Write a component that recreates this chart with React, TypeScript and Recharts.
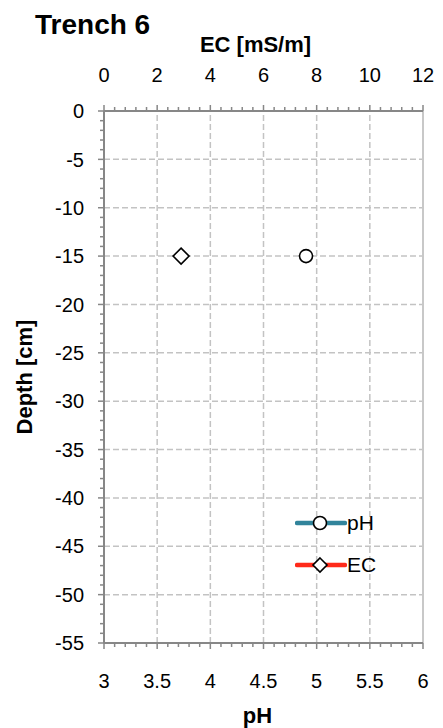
import {
  ScatterChart,
  Scatter,
  XAxis,
  YAxis,
  ReferenceLine,
  Legend,
} from 'recharts';

const FONT = '"Liberation Sans", Arial, sans-serif';

// measured points
const phData = [{ ph: 4.9, depth: -15 }];
const ecData = [{ ec: 2.9, depth: -15 }];

// major tick labels
const phTicks = [3, 3.5, 4, 4.5, 5, 5.5, 6];
const ecTicks = [0, 2, 4, 6, 8, 10, 12];
const depthTicks = [0, -5, -10, -15, -20, -25, -30, -35, -40, -45, -50, -55];

const seriesOrder = ['pH', 'EC'];

const PH_COLOR = '#31849B';
const EC_COLOR = '#FF2A1A';
const AXIS_COLOR = '#878787';
const GRID_COLOR = '#C3C3C3';

// minor tick positions between the major ones
const withMinor = (major: number[], parts: number) => {
  const out: number[] = [];
  for (let i = 0; i < major.length - 1; i++) {
    const step = (major[i + 1] - major[i]) / parts;
    for (let k = 0; k < parts; k++) out.push(+(major[i] + k * step).toFixed(4));
  }
  out.push(major[major.length - 1]);
  return out;
};

const phAll = withMinor(phTicks, 5);
const ecAll = withMinor(ecTicks, 5);
const depthAll = withMinor(depthTicks, 5);

const isMajor = (v: number, list: number[]) =>
  list.some((m) => Math.abs(m - v) < 1e-6);

const BottomTick = (props: any) => {
  const { x, y, payload } = props;
  const major = isMajor(payload.value, phTicks);
  return (
    <g>
      <line x1={x} x2={x} y1={y} y2={y + (major ? 6 : 4)} stroke={AXIS_COLOR} strokeWidth={1.5} />
      {major && (
        <text x={x} y={y + 45} textAnchor="middle" fontSize={20} fontFamily={FONT} fill="#000">
          {payload.value}
        </text>
      )}
    </g>
  );
};

const TopTick = (props: any) => {
  const { x, y, payload } = props;
  const major = isMajor(payload.value, ecTicks);
  return (
    <g>
      <line x1={x} x2={x} y1={y} y2={y - (major ? 6 : 4)} stroke={AXIS_COLOR} strokeWidth={1.5} />
      {major && (
        <text x={x} y={y - 29} textAnchor="middle" fontSize={20} fontFamily={FONT} fill="#000">
          {payload.value}
        </text>
      )}
    </g>
  );
};

const LeftTick = (props: any) => {
  const { x, y, payload } = props;
  const major = isMajor(payload.value, depthTicks);
  return (
    <g>
      <line x1={x} x2={x - (major ? 6 : 4)} y1={y} y2={y} stroke={AXIS_COLOR} strokeWidth={1.5} />
      {major && (
        <text x={x - 20} y={y} dy="0.36em" textAnchor="end" fontSize={20} fontFamily={FONT} fill="#000">
          {payload.value}
        </text>
      )}
    </g>
  );
};

const Circle = (p: any) => (
  <circle cx={p.cx} cy={p.cy} r={6.5} fill="#fff" stroke="#000" strokeWidth={1.6} />
);

const Diamond = (p: any) => (
  <path
    d={`M${p.cx},${p.cy - 8}L${p.cx + 8},${p.cy}L${p.cx},${p.cy + 8}L${p.cx - 8},${p.cy}Z`}
    fill="#fff"
    stroke="#000"
    strokeWidth={1.6}
  />
);

const LegendContent = (props: any) => {
  const payload = [...(props.payload || [])].sort(
    (a: any, b: any) => seriesOrder.indexOf(a.value) - seriesOrder.indexOf(b.value)
  );
  return (
    <div style={{ fontFamily: FONT }}>
      {payload.map((entry: any) => (
        <div key={entry.value} style={{ display: 'flex', alignItems: 'center', height: 42 }}>
          <svg width={52} height={20}>
            <line x1={2} x2={50} y1={10} y2={10} stroke={entry.color} strokeWidth={4.5} strokeLinecap="round" />
            {entry.value === 'pH' ? (
              <circle cx={25} cy={10} r={6.5} fill="#fff" stroke="#000" strokeWidth={1.6} />
            ) : (
              <path d="M25,3L32,10L25,17L18,10Z" fill="#fff" stroke="#000" strokeWidth={1.6} />
            )}
          </svg>
          <span style={{ fontSize: 21, color: '#000', marginLeft: 0 }}>{entry.value}</span>
        </div>
      ))}
    </div>
  );
};

export default function App() {
  return (
    <div style={{ position: 'absolute', left: 0, top: 0, background: '#fff' }}>
      <ScatterChart
        width={443}
        height={728}
        margin={{ top: 81, right: 20, bottom: 35, left: 44 }}
      >
        <text x={35} y={34} fontSize={28} fontWeight="bold" fontFamily={FONT} fill="#000">
          Trench 6
        </text>
        <XAxis
          xAxisId="ec"
          dataKey="ec"
          type="number"
          orientation="top"
          domain={[0, 12]}
          ticks={ecAll}
          interval={0}
          height={30}
          tickSize={0}
          tickMargin={0}
          tickLine={false}
          tick={<TopTick />}
          axisLine={{ stroke: AXIS_COLOR, strokeWidth: 2 }}
          label={{
            content: ({ viewBox }: any) => (
              <text
                x={viewBox.x + viewBox.width / 2 - 8}
                y={viewBox.y - 29}
                textAnchor="middle"
                fontSize={22}
                fontWeight="bold"
                fontFamily={FONT}
                fill="#000"
              >
                EC [mS/m]
              </text>
            ),
          }}
        />
        <XAxis
          xAxisId="ph"
          dataKey="ph"
          type="number"
          orientation="bottom"
          domain={[3, 6]}
          ticks={phAll}
          interval={0}
          height={50}
          tickSize={0}
          tickMargin={0}
          tickLine={false}
          tick={<BottomTick />}
          axisLine={{ stroke: AXIS_COLOR, strokeWidth: 2 }}
          label={{
            content: ({ viewBox }: any) => (
              <text
                x={viewBox.x + viewBox.width / 2 - 6}
                y={viewBox.y + 80}
                textAnchor="middle"
                fontSize={22}
                fontWeight="bold"
                fontFamily={FONT}
                fill="#000"
              >
                pH
              </text>
            ),
          }}
        />
        <YAxis
          yAxisId="depth"
          dataKey="depth"
          type="number"
          domain={[-55, 0]}
          ticks={depthAll}
          interval={0}
          width={60}
          tickSize={0}
          tickMargin={0}
          tickLine={false}
          tick={<LeftTick />}
          axisLine={{ stroke: AXIS_COLOR, strokeWidth: 2 }}
          label={{
            content: ({ viewBox }: any) => {
              const cx = viewBox.x - 20;
              const cy = viewBox.y + viewBox.height / 2;
              return (
                <text
                  x={cx}
                  y={cy}
                  transform={`rotate(-90 ${cx} ${cy})`}
                  textAnchor="middle"
                  dy="0.36em"
                  fontSize={22}
                  fontWeight="bold"
                  fontFamily={FONT}
                  fill="#000"
                >
                  Depth [cm]
                </text>
              );
            },
          }}
        />
        {phTicks.slice(1, -1).map((v) => (
          <ReferenceLine
            key={`gx${v}`}
            x={v}
            xAxisId="ph"
            yAxisId="depth"
            stroke={GRID_COLOR}
            strokeWidth={1.5}
            strokeDasharray="6 3"
          />
        ))}
        {depthTicks.slice(1, -1).map((v) => (
          <ReferenceLine
            key={`gy${v}`}
            y={v}
            xAxisId="ph"
            yAxisId="depth"
            stroke={GRID_COLOR}
            strokeWidth={1.5}
            strokeDasharray="6 3"
          />
        ))}
        <ReferenceLine x={6} xAxisId="ph" yAxisId="depth" stroke="#C8C8C8" strokeWidth={2} />
        <Legend
          layout="vertical"
          align="center"
          verticalAlign="middle"
          wrapperStyle={{ left: 295, top: 502, width: 110 }}
          content={<LegendContent />}
        />
        <Scatter
          name="pH"
          data={phData}
          xAxisId="ph"
          yAxisId="depth"
          fill={PH_COLOR}
          shape={Circle}
          isAnimationActive={false}
        />
        <Scatter
          name="EC"
          data={ecData}
          xAxisId="ec"
          yAxisId="depth"
          fill={EC_COLOR}
          shape={Diamond}
          isAnimationActive={false}
        />
      </ScatterChart>
    </div>
  );
}
